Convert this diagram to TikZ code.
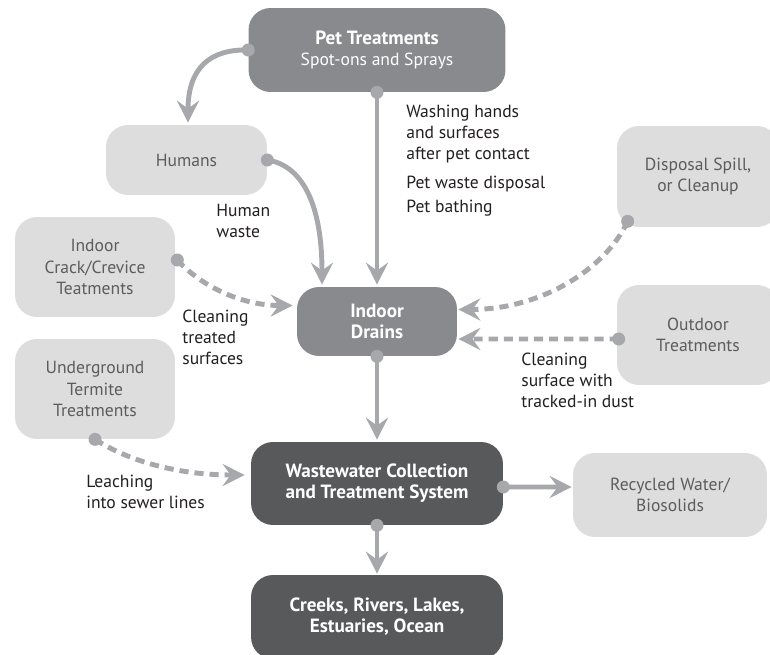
\documentclass[tikz,border=0pt]{standalone}
\usepackage{fontspec}
\setmainfont{PT Sans}
\usetikzlibrary{arrows.meta,calc}

\definecolor{midfill}{HTML}{898A8D}
\definecolor{darkfill}{HTML}{58595B}
\definecolor{lightfill}{HTML}{DDDDDD}
\definecolor{flowgray}{HTML}{A7A8AB}
\definecolor{softtext}{HTML}{5B5C5E}
\definecolor{labeltext}{HTML}{231F20}

\newcommand{\headline}[1]{{\fontsize{10.9}{12}\selectfont\bfseries #1}}

\begin{document}
\begin{tikzpicture}[x=0.02cm,y=-0.02cm,
  box/.style={rounded corners=0.44cm, align=center, inner sep=0pt,
              font=\fontsize{10}{12}\selectfont},
  midbox/.style={box, fill=midfill, text=white},
  darkbox/.style={box, fill=darkfill, text=white},
  softbox/.style={box, fill=lightfill, text=softtext},
  flow/.style={draw=flowgray, line width=2.8pt,
               -{Stealth[length=12.5pt,width=12.5pt,inset=4.5pt]}},
  dflow/.style={flow, dash pattern=on 5.2pt off 3.4pt},
  lbl/.style={anchor=north west, align=left, inner sep=0pt, text=labeltext,
              font=\fontsize{10}{11.8}\selectfont},
  dotfill/.style={fill=flowgray}
]
\path[use as bounding box] (0,0) rectangle (770,655);
\clip (0,0) rectangle (770,655);

% boxes
\node[midbox, minimum width=5.14cm, minimum height=1.68cm] (pet) at (377,50)
  {\headline{Pet Treatments}\\Spot-ons and Sprays};
\node[softbox, minimum width=3.22cm, minimum height=1.4cm] (humans) at (186.5,160) {Humans};
\node[softbox, minimum width=3.2cm, minimum height=2.0cm] (crack) at (95,267)
  {Indoor\\Crack/Crevice\\Teatments};
\node[softbox, minimum width=3.2cm, minimum height=2.0cm] (termite) at (95,389)
  {Underground\\Termite\\Treatments};
\node[midbox, minimum width=3.2cm, minimum height=1.38cm] (drains) at (377,321.5)
  {\headline{Indoor}\\\headline{Drains}};
\node[softbox, minimum width=3.24cm, minimum height=2.02cm] (disposal) at (698,176.5)
  {Disposal Spill,\\or Cleanup};
\node[softbox, minimum width=3.24cm, minimum height=2.0cm] (outdoor) at (698,335)
  {Outdoor\\Treatments};
\node[darkbox, minimum width=5.04cm, minimum height=1.66cm] (waste) at (377,483.5)
  {\headline{Wastewater Collection}\\\headline{and Treatment System}};
\node[softbox, minimum width=3.88cm, minimum height=1.68cm] (recycled) at (670,495)
  {Recycled Water/\\Biosolids};
\node[darkbox, minimum width=5.04cm, minimum height=1.68cm] (creeks) at (377,617)
  {\headline{Creeks, Rivers, Lakes,}\\\headline{Estuaries, Ocean}};

% connector end points on the box borders
\coordinate (crackout) at ($(crack.east)+(2,-7)$);
\coordinate (dispout) at ($(disposal.south west)+(11,-6)$);
\coordinate (outout) at ($(outdoor.west)+(2,4)$);
\coordinate (wasteout) at ($(waste.east)+(0,3.5)$);

% solid flows
\draw[flow] (pet.west) .. controls (210,49) and (188,68) .. ($(humans.north)+(1.5,-2)$);
\draw[flow] (pet.south) -- ($(drains.north)+(0,-2)$);
\draw[flow] (humans.east) .. controls (300,165) and (322,200) .. ($(drains.north)+(-55,-2)$);
\draw[flow] (drains.south) -- ($(waste.north)+(0,-2)$);
\draw[flow] (wasteout) -- ($(recycled.west)+(-1,-8)$);
\draw[flow] (waste.south) -- ($(creeks.north)+(0,-1)$);

% dashed flows
\draw[dflow] (crackout) .. controls (200,285) and (240,305.5) .. ($(drains.west)+(-4,-16)$);
\draw[dflow] (dispout) .. controls (605,270) and (540,309.5) .. ($(drains.east)+(1,-12)$);
\draw[dflow] (outout) -- ($(drains.east)+(1,17.5)$);
\draw[dflow] (termite.south) .. controls (130,462) and (180,475) .. ($(waste.west)+(-6,-8.5)$);

% dots at the start of each flow
\foreach \p in {pet.west, pet.south, humans.east, crackout, dispout, outout,
                drains.south, termite.south, wasteout, waste.south}
  \fill[dotfill] (\p) circle (0.13cm);

% flow labels
\node[lbl] (washing) at (406,105)
  {Washing hands\\and surfaces\\after pet contact\\[5pt]Pet waste disposal\\[1.5pt]Pet bathing};
\node[lbl] (humanwaste) at (216,204) {Human\\waste};
\node[lbl] (cleantreated) at (182,310) {Cleaning\\treated\\surfaces};
\node[lbl] (cleandust) at (521,353) {Cleaning\\surface with\\tracked-in dust};
\node[lbl] (leaching) at (86,475) {Leaching\\into sewer lines};
\end{tikzpicture}
\end{document}
